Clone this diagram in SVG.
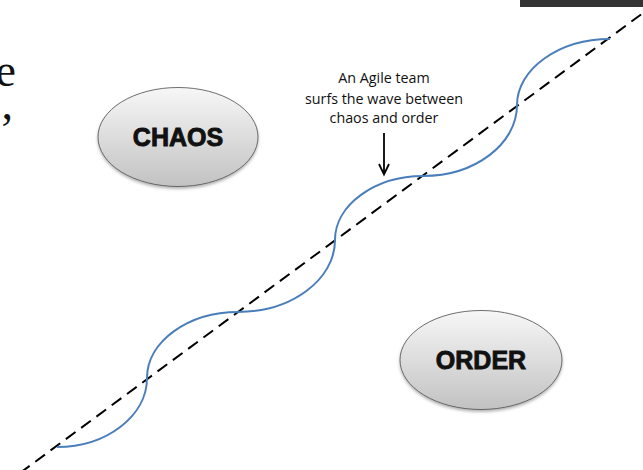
<svg xmlns="http://www.w3.org/2000/svg" width="643" height="470" viewBox="0 0 643 470">
  <style>
    .node-shape { fill: url(#g); stroke: #4d4d4d; stroke-width: 0.8; filter: url(#sh); }
    .node-label { font-family: "Liberation Sans", Arial, sans-serif; font-weight: bold; font-size: 25px; fill: #111; stroke: #111; stroke-width: 0.9; text-anchor: middle; }
    .note { font-family: "Open Sans", "Liberation Sans", sans-serif; font-size: 14.3px; fill: #111; text-anchor: middle; }
    .frag { font-family: "Liberation Serif", "Times New Roman", serif; font-size: 46px; fill: #111; text-anchor: end; }
  </style>
  <defs>
    <linearGradient id="g" x1="0" y1="0" x2="0" y2="1">
      <stop offset="0" stop-color="#f7f7f7"/>
      <stop offset="1" stop-color="#c2c2c2"/>
    </linearGradient>
    <filter id="sh" x="-20%" y="-20%" width="140%" height="150%">
      <feDropShadow dx="0" dy="2" stdDeviation="1.5" flood-color="#000" flood-opacity="0.3"/>
    </filter>
  </defs>
  <rect width="643" height="470" fill="#ffffff"/>
  <rect x="520" y="0" width="123" height="7" fill="#333333"/>
  <text class="frag"><tspan x="16" y="86">e</tspan><tspan x="13" y="119">,</tspan></text>

  <g id="connectors">
    <line x1="20" y1="473" x2="643" y2="13" stroke="#000" stroke-width="2" stroke-dasharray="12 7"/>
    <path d="M57,447 C106.5,447 147,416 147,378 C147,341.7 188,312 238,312 C291,312 335,280 335,240 C335,205 375,176 423,176 C475,176 517,144 517,105 C517,69 559,39 610,39" fill="none" stroke="#4a7ebb" stroke-width="2"/>
    <line x1="384" y1="133" x2="384" y2="174" stroke="#000" stroke-width="1.8"/>
    <path d="M379,164 L384,174.5 L389,164" fill="none" stroke="#000" stroke-width="1.8"/>
  </g>

  <g id="note">
    <text class="note" x="384" y="83">An Agile team</text>
    <text class="note" x="384" y="104">surfs the wave between</text>
    <text class="note" x="384" y="123">chaos and order</text>
  </g>

  <g id="chaos">
    <ellipse class="node-shape" cx="178" cy="137" rx="80" ry="49.5"/>
    <text class="node-label" x="178" y="146">CHAOS</text>
  </g>

  <g id="order">
    <ellipse class="node-shape" cx="481" cy="360" rx="81" ry="49.5"/>
    <text class="node-label" x="481" y="369">ORDER</text>
  </g>
</svg>
